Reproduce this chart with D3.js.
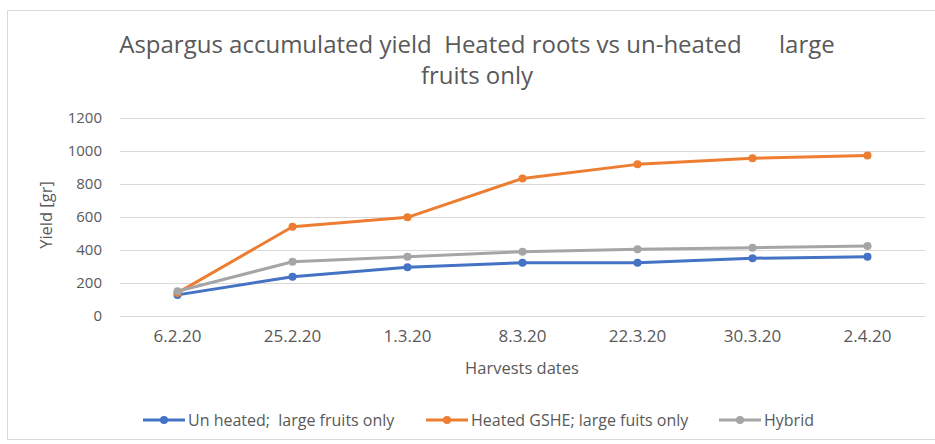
<!DOCTYPE html>
<html>
<head>
<meta charset="utf-8">
<script src="https://cdn.jsdelivr.net/npm/d3@7"></script>
<style>
  html, body { margin: 0; padding: 0; background: #fff; }
  svg text { font-family: "Open Sans", "Liberation Sans", sans-serif; fill: #595959; white-space: pre; }
</style>
</head>
<body>
<svg id="chart" width="935" height="444"></svg>
<script>
// Harvest dates on the category axis
const dates = ["6.2.20", "25.2.20", "1.3.20", "8.3.20", "22.3.20", "30.3.20", "2.4.20"];
// Accumulated yield per series, grams
const unHeated = [128, 238, 295, 323, 323, 350, 359];
const heatedGSHE = [140, 541, 598, 834, 919, 956, 972];
const hybrid = [150, 329, 359, 390, 404, 414, 424];
// Value axis ticks
const yTicks = [0, 200, 400, 600, 800, 1000, 1200];

const seriesNames = ["Un heated;  large fruits only", "Heated GSHE; large fuits only", "Hybrid"];
const seriesColors = ["#4472C4", "#ED7D31", "#A5A5A5"];
const seriesValues = [unHeated, heatedGSHE, hybrid];

const svg = d3.select("#chart");

// Outer chart frame
svg.append("rect")
  .attr("x", 7.5).attr("y", 10.5)
  .attr("width", 940).attr("height", 429)
  .attr("fill", "#fff").attr("stroke", "#d9d9d9");

const plot = { left: 120, right: 925, top: 118, bottom: 316 };

const x = d3.scaleBand().domain(dates).range([plot.left, plot.right]);
const y = d3.scaleLinear().domain([0, 1200]).range([plot.bottom, plot.top]);

// Horizontal gridlines
svg.append("g")
  .selectAll("line").data(yTicks).join("line")
  .attr("x1", plot.left).attr("x2", plot.right)
  .attr("y1", d => Math.round(y(d)) + 0.5).attr("y2", d => Math.round(y(d)) + 0.5)
  .attr("stroke", "#d9d9d9").attr("stroke-width", 1);

// Value axis labels
const yAxis = d3.axisLeft(y).tickValues(yTicks).tickFormat(d3.format("d")).tickSize(0).tickPadding(0);
const gy = svg.append("g").attr("transform", `translate(${plot.left - 18},0)`).call(yAxis);
gy.select(".domain").remove();
gy.selectAll("text").attr("font-size", 15).style("fill", "#595959")
  .style("font-family", "'Open Sans', sans-serif");

// Category axis labels
const xAxis = d3.axisBottom(x).tickSize(0).tickPadding(0);
const gx = svg.append("g").attr("transform", `translate(0,${plot.bottom + 14})`).call(xAxis);
gx.select(".domain").remove();
gx.selectAll("text").attr("font-size", 17).style("fill", "#595959")
  .style("font-family", "'Open Sans', sans-serif");

// Series lines and markers
const line = d3.line().x((d, i) => x(dates[i]) + x.bandwidth() / 2).y(d => y(d));
seriesValues.forEach((vals, s) => {
  const g = svg.append("g");
  g.append("path").datum(vals)
    .attr("d", line).attr("fill", "none")
    .attr("stroke", seriesColors[s]).attr("stroke-width", 3).attr("stroke-linejoin", "round");
  g.selectAll("circle").data(vals).join("circle")
    .attr("cx", (d, i) => x(dates[i]) + x.bandwidth() / 2)
    .attr("cy", d => y(d)).attr("r", 4)
    .attr("fill", seriesColors[s]);
});

// Title
const title = svg.append("text").attr("text-anchor", "middle").attr("font-size", 24);
title.append("tspan").attr("x", 477).attr("y", 53)
  .text("Aspargus accumulated yield  Heated roots vs un-heated      large");
title.append("tspan").attr("x", 477).attr("y", 84).text("fruits only");

// Axis titles
svg.append("text").attr("text-anchor", "middle").attr("font-size", 16.5)
  .attr("transform", "translate(52,215) rotate(-90)").text("Yield [gr]");
svg.append("text").attr("text-anchor", "middle").attr("font-size", 16.5)
  .attr("x", 522).attr("y", 374).text("Harvests dates");

// Legend
const legendX = [143, 426, 719];
const legend = svg.append("g");
seriesNames.forEach((name, s) => {
  const lx = legendX[s], ly = 420;
  legend.append("line").attr("x1", lx).attr("x2", lx + 42).attr("y1", ly).attr("y2", ly)
    .attr("stroke", seriesColors[s]).attr("stroke-width", 3);
  legend.append("circle").attr("cx", lx + 21).attr("cy", ly).attr("r", 4).attr("fill", seriesColors[s]);
  legend.append("text").attr("x", lx + 45).attr("y", ly + 6).attr("font-size", 16).text(name);
});
</script>
</body>
</html>
